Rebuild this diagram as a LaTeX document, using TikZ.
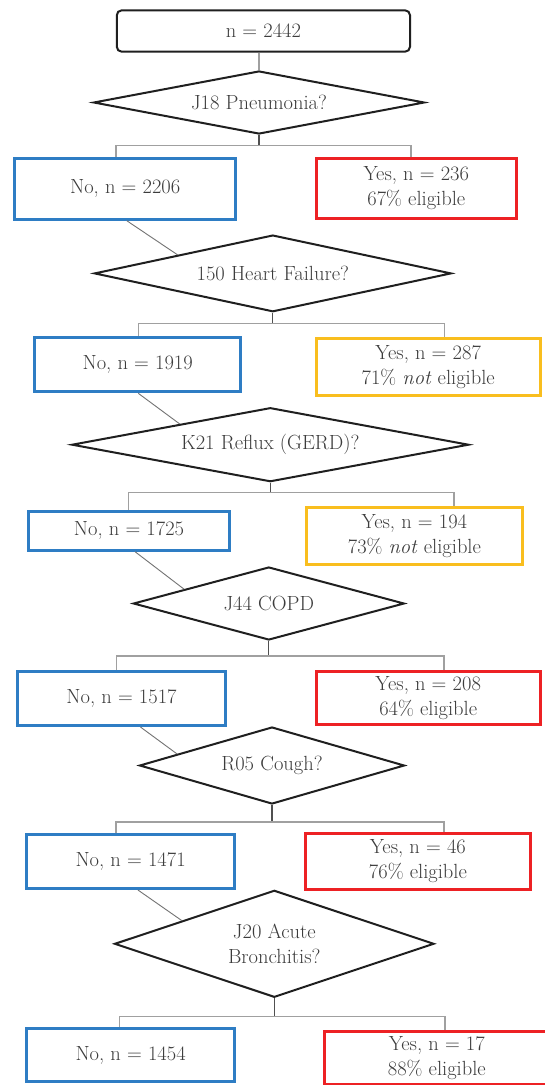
\documentclass[tikz,border=0pt]{standalone}
\usepackage{fontspec}
\usetikzlibrary{shapes.geometric,calc}
\definecolor{cblue}{RGB}{46,125,196}
\definecolor{cred}{RGB}{237,33,36}
\definecolor{cyellow}{RGB}{249,190,30}
\definecolor{ctext}{RGB}{60,60,60}
\definecolor{cconn}{RGB}{160,160,160}
\definecolor{cstub}{RGB}{80,80,80}
\begin{document}
\begin{tikzpicture}[x=1pt,y=-1pt,
  txt/.style={font=\fontsize{20.5}{25}\selectfont, text=ctext, align=center},
  dec/.style={txt, shape=diamond, draw=black!88, line width=2pt, inner sep=0pt, line join=miter},
  topbox/.style={txt, draw=black!88, line width=2pt, rounded corners=5pt, inner sep=0pt},
  nobox/.style={txt, draw=cblue, line width=3pt, inner sep=0pt},
  yesred/.style={txt, draw=cred, line width=3pt, inner sep=0pt},
  yesyel/.style={txt, draw=cyellow, line width=3pt, inner sep=0pt},
  conn/.style={draw=cconn, line width=1.2pt},
  stub/.style={draw=cstub, line width=1.2pt},
  diag/.style={draw=black!55, line width=0.9pt}]
\useasboundingbox[fill=white] (0,0) rectangle (545,1085);

% top
\node[topbox, minimum width=293.3pt, minimum height=41.4pt] (top) at (263.4,31) {n = 2442};

% diamonds
\node[dec, minimum width=331pt, minimum height=63pt, aspect=5.25] (d1) at (259,102.5) {J18 Pneumonia?};
\node[dec, minimum width=357pt, minimum height=76.7pt, aspect=4.65] (d2) at (272.8,273.4) {150 Heart Failure?};
\node[dec, minimum width=397pt, minimum height=74pt, aspect=5.36] (d3) at (270.3,444.7) {K21 Reflux (GERD)?};
\node[dec, minimum width=271pt, minimum height=73pt, aspect=3.71] (d4) at (268.8,603.5) {J44 COPD};
\node[dec, minimum width=265pt, minimum height=77pt, aspect=3.44] (d5) at (272,765.5) {R05 Cough?};
\node[dec, minimum width=319.5pt, minimum height=107pt, aspect=2.99] (d6) at (274.3,943.8) {J20 Acute\\Bronchitis?};

% boxes
\node[nobox, minimum width=221.5pt, minimum height=61pt] (no1) at (125.2,188.7) {No, n = 2206};
\node[yesred, minimum width=200.4pt, minimum height=60.6pt] (yes1) at (416.3,188.5) {Yes, n = 236\\67\% eligible};
\node[nobox, minimum width=206.3pt, minimum height=54.3pt] (no2) at (137.7,364.7) {No, n = 1919};
\node[yesyel, minimum width=224pt, minimum height=57.6pt] (yes2) at (428.2,367) {Yes, n = 287\\71\% \textit{not} eligible};
\node[nobox, minimum width=201pt, minimum height=38.7pt] (no3) at (129,530.9) {No, n = 1725};
\node[yesyel, minimum width=215.8pt, minimum height=57pt] (yes3) at (414.4,536) {Yes, n = 194\\73\% \textit{not} eligible};
\node[nobox, minimum width=207.3pt, minimum height=54pt] (no4) at (121.5,698.5) {No, n = 1517};
\node[yesred, minimum width=224pt, minimum height=53pt] (yes4) at (428.2,698) {Yes, n = 208\\64\% eligible};
\node[nobox, minimum width=207.3pt, minimum height=54pt] (no5) at (130.6,861.5) {No, n = 1471};
\node[yesred, minimum width=224.8pt, minimum height=55.5pt] (yes5) at (417.9,861.3) {Yes, n = 46\\76\% eligible};
\node[nobox, minimum width=207.3pt, minimum height=53pt] (no6) at (130.6,1055) {No, n = 1454};
\node[yesred, minimum width=225.5pt, minimum height=53.5pt] (yes6) at (436.8,1057.75) {Yes, n = 17\\88\% eligible};

% top connector
\draw[conn] (top.south -| d1.north) -- (d1.north);

% branch junctions
\coordinate (h1) at (259,145.7);
\coordinate (h2) at (272.8,323.3);
\coordinate (h3) at (270.3,492.7);
\coordinate (h4) at (268.8,656);
\coordinate (h5) at (272,822);
\coordinate (h6) at (274.3,1016.5);

\draw[stub] (d1.south) -- (h1);
\draw[stub] (d2.south) -- (h2);
\draw[stub] (d3.south) -- (h3);
\draw[stub] (d4.south) -- (h4);
\draw[stub] (d5.south) -- (h5);
\draw[stub] (d6.south) -- (h6);

\draw[conn] ([xshift=-9.2pt]no1.north) |- (h1) -| ([xshift=-5.3pt]yes1.north);
\draw[conn] ([xshift=0.6pt]no2.north) |- (h2) -| ([xshift=16.1pt]yes2.north);
\draw[conn] ([xshift=-0.5pt]no3.north) |- (h3) -| ([xshift=39.6pt]yes3.north);
\draw[conn] ([xshift=-5.3pt]no4.north) |- (h4) -| ([xshift=15.8pt]yes4.north);
\draw[conn] ([xshift=-14.6pt]no5.north) |- (h5) -| ([xshift=26pt]yes5.north);
\draw[conn] ([xshift=-11.1pt]no6.north) |- (h6) -| ([xshift=8.2pt]yes6.north);

% diagonal links from "No" boxes to next question
\draw[diag] ($(no1.south west)!0.507!(no1.south east)$) -- ($(d2.west)!0.47!(d2.north)$);
\draw[diag] ($(no2.south west)!0.503!(no2.south east)$) -- ($(d3.west)!0.546!(d3.north)$);
\draw[diag] ($(no3.south west)!0.53!(no3.south east)$) -- ($(d4.west)!0.38!(d4.north)$);
\draw[diag] ($(no4.south west)!0.59!(no4.south east)$) -- ($(d5.west)!0.29!(d5.north)$);
\draw[diag] ($(no5.south west)!0.535!(no5.south east)$) -- ($(d6.west)!0.425!(d6.north)$);
\end{tikzpicture}
\end{document}
